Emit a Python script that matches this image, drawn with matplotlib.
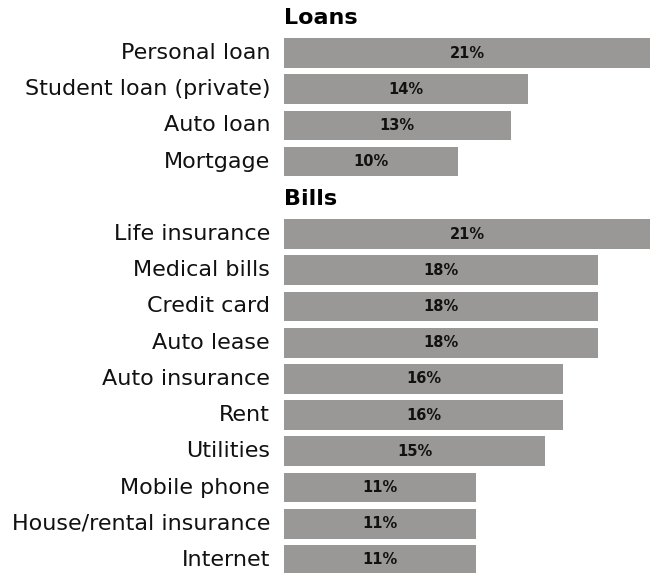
import matplotlib.pyplot as plt

# Data
loan_labels = ["Personal loan", "Student loan (private)", "Auto loan", "Mortgage"]
loan_values = [21, 14, 13, 10]
bill_labels = ["Life insurance", "Medical bills", "Credit card", "Auto lease",
               "Auto insurance", "Rent", "Utilities", "Mobile phone",
               "House/rental insurance", "Internet"]
bill_values = [21, 18, 18, 18, 16, 16, 15, 11, 11, 11]
groups = [("Loans", loan_labels, loan_values), ("Bills", bill_labels, bill_values)]

bar_color = "#999896"
font = "DejaVu Sans"

fig = plt.figure(figsize=(6.5, 5.73), dpi=100)
ax = fig.add_axes([284 / 650, 0, 366 / 650, 1])

row = 0
for header, labels, values in groups:
    ax.text(0, row + 0.03, header, ha="left", va="center", fontsize=16,
            fontweight="bold", family=font, color="black")
    row += 1
    for lab, val in zip(labels, values):
        ax.barh(row, val, height=0.82, color=bar_color, left=0)
        ax.text(val / 2, row, f"{val}%", ha="center", va="center",
                fontsize=10.5, fontweight="bold", family=font, color="#111111")
        ax.annotate(lab, xy=(0, row), xytext=(-10, 0), textcoords="offset points",
                    ha="right", va="center", fontsize=16, family=font,
                    color="#111111", annotation_clip=False)
        row += 1

ax.set_xlim(0, 21)
ax.set_ylim(15.36, -0.464)
ax.axis("off")

fig.savefig("out.png", dpi=100)
